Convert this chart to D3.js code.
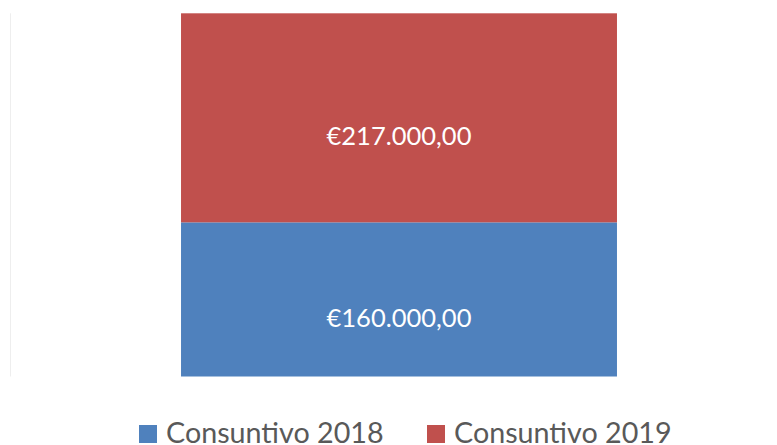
<!DOCTYPE html>
<html>
<head>
<meta charset="utf-8">
<script src="https://d3js.org/d3.v7.min.js"></script>
<style>
  body { margin: 0; background: #fff; }
  text { font-family: Lato, "Open Sans", sans-serif; }
</style>
</head>
<body>
<script>
// data
var categories = ["Totale"];
var seriesNames = ["Consuntivo 2018", "Consuntivo 2019"];
var consuntivo2018 = [160000];
var consuntivo2019 = [217000];
var colors = ["#4f81bd", "#c0504d"];

var width = 777,
    height = 445;

var svg = d3.select("body").append("svg")
    .attr("width", width)
    .attr("height", height);

var rows = categories.map(function(c, i) {
  return { cat: c, "Consuntivo 2018": consuntivo2018[i], "Consuntivo 2019": consuntivo2019[i] };
});
var stacked = d3.stack().keys(seriesNames)(rows);

var x = d3.scaleBand()
    .domain(categories)
    .range([11, 787])
    .paddingInner(0)
    .paddingOuter(0.39); // bar spans roughly 181..617

var y = d3.scaleLinear()
    .domain([0, d3.max(stacked[stacked.length - 1], function(d) { return d[1]; })])
    .range([376.5, 13.3]);

// faint axis line at the left
svg.append("line")
    .attr("x1", 10.5).attr("x2", 10.5)
    .attr("y1", y.range()[1]).attr("y2", y.range()[0])
    .attr("stroke", "#eeeeee")
    .attr("stroke-width", 1);

var euro = function(v) {
  var s = d3.format(",.2f")(v);
  // swap separators to italian style
  s = s.replace(/,/g, "#").replace(".", ",").replace(/#/g, ".");
  return "€" + s;
};

var layer = svg.selectAll(".layer")
    .data(stacked)
  .enter().append("g")
    .attr("class", "layer")
    .attr("fill", function(d, i) { return colors[i]; });

layer.selectAll("rect")
    .data(function(d) { return d; })
  .enter().append("rect")
    .attr("x", function(d) { return x(d.data.cat); })
    .attr("width", x.bandwidth())
    .attr("y", function(d) { return y(d[1]); })
    .attr("height", function(d) { return y(d[0]) - y(d[1]); });

// labels sit a bit below the middle of each segment, like the original
layer.selectAll("text")
    .data(function(d) { return d; })
  .enter().append("text")
    .attr("x", function(d) { return x(d.data.cat) + x.bandwidth() / 2; })
    .attr("y", function(d) { return (y(d[0]) + y(d[1])) / 2 + 18; })
    .attr("dy", "0.36em")
    .attr("text-anchor", "middle")
    .attr("fill", "#fff")
    .style("font-size", "25.5px")
    .text(function(d) { return euro(d[1] - d[0]); });

// legend
var legendX = [139, 427];
var legend = svg.selectAll(".legend")
    .data(seriesNames)
  .enter().append("g")
    .attr("class", "legend")
    .attr("transform", function(d, i) { return "translate(" + legendX[i] + ",425)"; });

legend.append("rect")
    .attr("width", 18)
    .attr("height", 18)
    .attr("fill", function(d, i) { return colors[i]; });

legend.append("text")
    .attr("x", 27)
    .attr("y", 18)
    .attr("fill", "#595959")
    .style("font-size", "28.7px")
    .text(function(d) { return d; });
</script>
</body>
</html>
